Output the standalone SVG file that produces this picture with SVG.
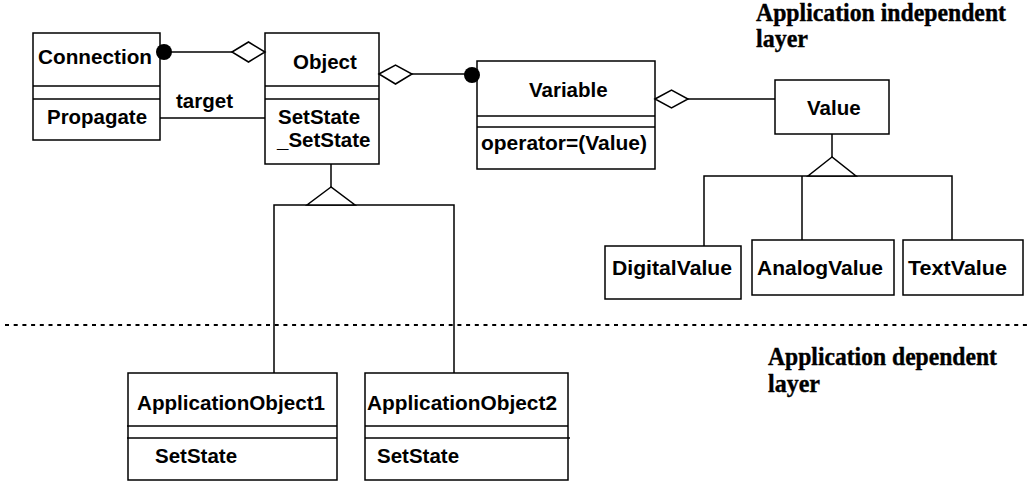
<svg xmlns="http://www.w3.org/2000/svg" width="1027" height="481" viewBox="0 0 1027 481">
<style>
.box{fill:#fff;stroke:#000;stroke-width:1.5}
.ln{fill:none;stroke:#000;stroke-width:1.5}
.dia{fill:#fff;stroke:#000;stroke-width:1.5}
.dot{fill:#000;stroke:none}
.t{font-family:"Liberation Sans",Arial,sans-serif;font-weight:bold;font-size:20.5px;fill:#000}
.lay{font-family:"Liberation Serif","Times New Roman",serif;font-weight:bold;font-size:25px;fill:#000;stroke:#000;stroke-width:0.4}
</style>
<rect width="1027" height="481" fill="#fff"/>
<g id="connection">
<rect class="box" x="33" y="33" width="127" height="107"/>
<line class="ln" x1="33" y1="86" x2="160" y2="86"/>
<line class="ln" x1="33" y1="99" x2="160" y2="99"/>
<text class="t" x="38" y="64" textLength="114" lengthAdjust="spacingAndGlyphs">Connection</text>
<text class="t" x="47" y="124" textLength="100" lengthAdjust="spacingAndGlyphs">Propagate</text>
</g>
<g id="object">
<rect class="box" x="265" y="33" width="114" height="131"/>
<line class="ln" x1="265" y1="86" x2="379" y2="86"/>
<line class="ln" x1="265" y1="99" x2="379" y2="99"/>
<text class="t" x="293" y="69">Object</text>
<text class="t" x="278" y="124">SetState</text>
<text class="t" x="277" y="147">_SetState</text>
</g>
<g id="variable">
<rect class="box" x="477" y="61" width="178" height="108"/>
<line class="ln" x1="477" y1="116" x2="655" y2="116"/>
<line class="ln" x1="477" y1="127" x2="655" y2="127"/>
<text class="t" x="529" y="97">Variable</text>
<text class="t" x="481" y="150" textLength="166" lengthAdjust="spacingAndGlyphs">operator=(Value)</text>
</g>
<g id="value">
<rect class="box" x="775" y="80" width="114" height="54"/>
<text class="t" x="807" y="115">Value</text>
</g>
<g id="digitalvalue">
<rect class="box" x="605" y="246" width="136" height="53"/>
<text class="t" x="612" y="275" textLength="120" lengthAdjust="spacingAndGlyphs">DigitalValue</text>
</g>
<g id="analogvalue">
<rect class="box" x="752" y="240" width="142" height="55"/>
<text class="t" x="757" y="275" textLength="126" lengthAdjust="spacingAndGlyphs">AnalogValue</text>
</g>
<g id="textvalue">
<rect class="box" x="903" y="240" width="120" height="55"/>
<text class="t" x="908" y="275" textLength="99" lengthAdjust="spacingAndGlyphs">TextValue</text>
</g>
<g id="appobj1">
<rect class="box" x="128" y="373" width="209" height="107"/>
<line class="ln" x1="127" y1="426" x2="337" y2="426"/>
<line class="ln" x1="127" y1="438" x2="337" y2="438"/>
<text class="t" x="137" y="410" textLength="188" lengthAdjust="spacingAndGlyphs">ApplicationObject1</text>
<text class="t" x="155" y="463">SetState</text>
</g>
<g id="appobj2">
<rect class="box" x="365" y="373" width="203" height="107"/>
<line class="ln" x1="365" y1="426" x2="568" y2="426"/>
<line class="ln" x1="365" y1="438" x2="570" y2="438"/>
<text class="t" x="367" y="410" textLength="190" lengthAdjust="spacingAndGlyphs">ApplicationObject2</text>
<text class="t" x="377" y="463">SetState</text>
</g>
<g id="connectors">
<line class="ln" x1="164" y1="52" x2="232" y2="52"/>
<line class="ln" x1="160" y1="118" x2="265" y2="118"/>
<line class="ln" x1="412" y1="74" x2="472" y2="74"/>
<line class="ln" x1="688" y1="99" x2="775" y2="99"/>
<polyline class="ln" points="331,164 331,187"/>
<polyline class="ln" points="274,373 274,205 454,205 454,373"/>
<polyline class="ln" points="832,134 832,157"/>
<polyline class="ln" points="704,246 704,176 952,176 952,240"/>
<line class="ln" x1="802" y1="176" x2="802" y2="240"/>
<polygon class="dia" points="331,187 307,205 355,205"/>
<polygon class="dia" points="832,157 808,176 856,176"/>
<polygon class="dia" points="232,52 248.5,42 265,52 248.5,62"/>
<polygon class="dia" points="379,74 395.5,65 412,74 395.5,84"/>
<polygon class="dia" points="655,99 671.5,90 688,99 671.5,108"/>
<circle class="dot" cx="164" cy="52" r="8"/>
<circle class="dot" cx="472" cy="75" r="8"/>
<text class="t" x="176" y="108">target</text>
</g>
<g id="layers">
<line x1="5" y1="325" x2="1027" y2="325" stroke="#000" stroke-width="2" stroke-dasharray="4 4.7"/>
<text class="lay" x="756" y="21" textLength="250" lengthAdjust="spacingAndGlyphs">Application independent</text>
<text class="lay" x="756" y="47" textLength="52" lengthAdjust="spacingAndGlyphs">layer</text>
<text class="lay" x="768" y="365" textLength="229" lengthAdjust="spacingAndGlyphs">Application dependent</text>
<text class="lay" x="768" y="392" textLength="52" lengthAdjust="spacingAndGlyphs">layer</text>
</g>
</svg>
